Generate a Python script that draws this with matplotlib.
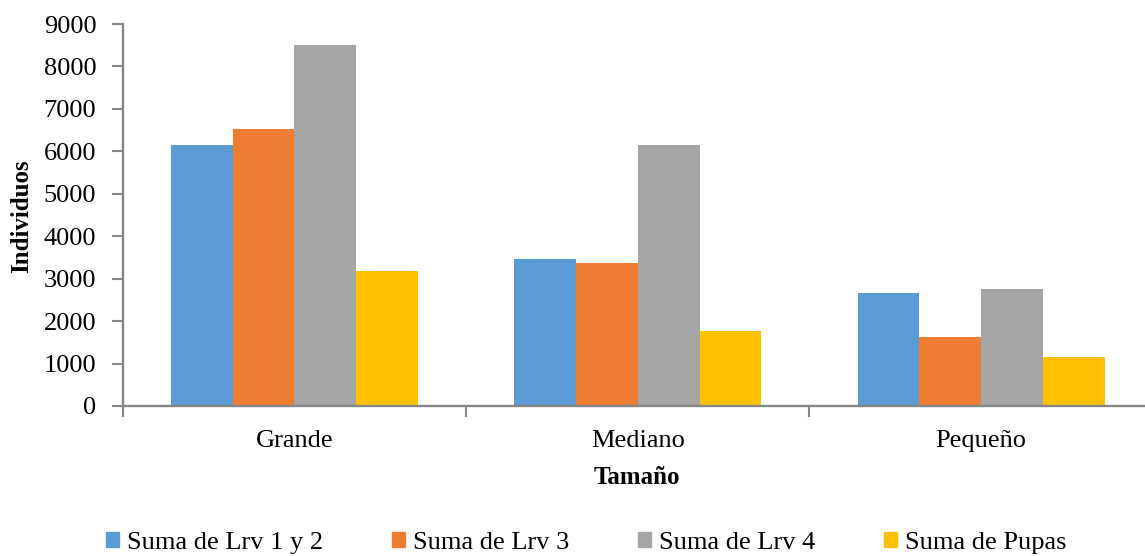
import matplotlib.pyplot as plt
import numpy as np
from matplotlib.patches import Patch

# datos por tamaño
tamanos = ['Grande', 'Mediano', 'Pequeño']
series = ['Suma de Lrv 1 y 2', 'Suma de Lrv 3', 'Suma de Lrv 4', 'Suma de Pupas']
lrv_1_2 = [6140, 3460, 2655]
lrv_3 = [6525, 3365, 1620]
lrv_4 = [8505, 6145, 2750]
pupas = [3175, 1760, 1150]
colores = ['#5B9BD5', '#ED7D31', '#A5A5A5', '#FFC000']

plt.rcParams['font.family'] = ['Liberation Serif', 'DejaVu Serif']
gris = '#868686'

fig = plt.figure(figsize=(11.45, 5.56), dpi=100)
ax = fig.add_axes([0.1072, 0.2698, 0.8996, 0.687])

x = np.arange(len(tamanos))
ancho = 0.18
valores = [lrv_1_2, lrv_3, lrv_4, pupas]
for i, (v, c) in enumerate(zip(valores, colores)):
    ax.bar(x + (i - 1.5) * ancho, v, ancho, color=c, label=series[i])

ax.set_xlim(-0.5, 2.5)
ax.set_ylim(0, 9000)
ax.set_yticks(range(0, 9001, 1000))
ax.set_xticks([-0.5, 0.5, 1.5, 2.5])
ax.set_xticklabels([])
ax.set_xticks(x, minor=True)
ax.set_xticklabels(tamanos, minor=True)
ax.tick_params(axis='x', which='minor', length=0, pad=17, labelsize=19)
ax.tick_params(axis='x', which='major', length=8, width=1.5, color=gris)
ax.tick_params(axis='y', length=8, width=1.5, color=gris, labelsize=19, pad=11)

for s in ['top', 'right']:
    ax.spines[s].set_visible(False)
for s in ['left', 'bottom']:
    ax.spines[s].set_color(gris)
    ax.spines[s].set_linewidth(1.7)

fig.text(0.0192, 1 - 216 / 556, 'Individuos', rotation=90, ha='center', va='center',
         fontsize=18, fontweight='bold')
fig.text(0.556, 1 - 477 / 556, 'Tamaño', ha='center', va='center',
         fontsize=18, fontweight='bold')

handles = [Patch(color=c) for c in colores]
fig.legend(handles, series, loc='center', bbox_to_anchor=(586 / 1145, 1 - 543 / 556),
           ncol=4, frameon=False, fontsize=19, handlelength=0.5, handleheight=0.5,
           handletextpad=0.3, columnspacing=2.6, borderpad=0)

fig.savefig('out.png', dpi=100)
